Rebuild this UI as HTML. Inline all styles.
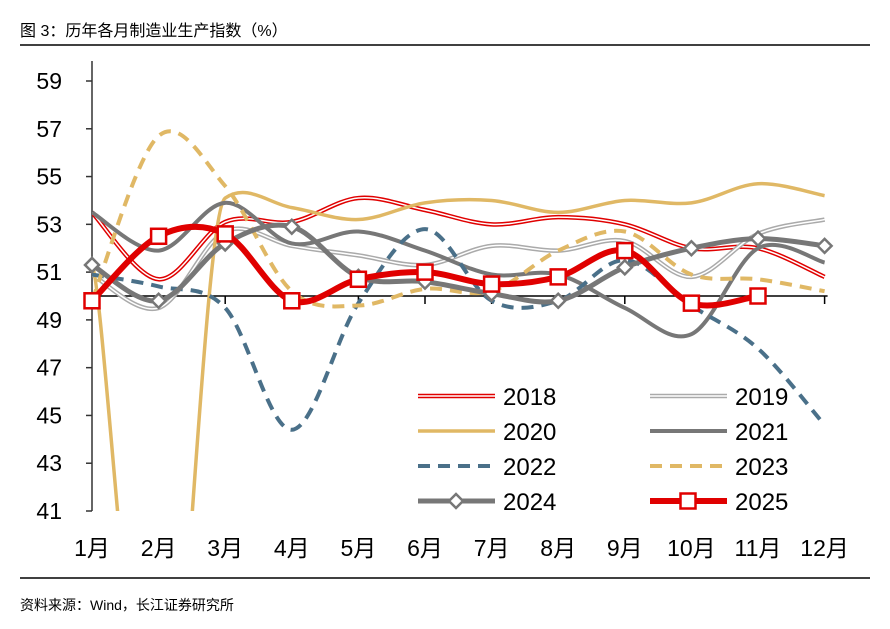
<!DOCTYPE html>
<html><head><meta charset="utf-8">
<style>
html,body{margin:0;padding:0;background:#fff;width:890px;height:629px;overflow:hidden;font-family:"Liberation Sans","Noto Sans CJK SC",sans-serif}
svg{display:block;overflow:hidden}
</style></head>
<body>
<svg id="c" width="890" height="629" xmlns="http://www.w3.org/2000/svg" style="font-family:'Liberation Sans','Noto Sans CJK SC',sans-serif">
<text x="20" y="36" font-size="16" fill="#000">图 3：历年各月制造业生产指数（%）</text>
<line x1="20" y1="45" x2="870" y2="45" stroke="#000" stroke-width="1.5"/>
<line x1="20" y1="578" x2="870" y2="578" stroke="#000" stroke-width="1.5"/>
<text x="20" y="610" font-size="14" fill="#000">资料来源：Wind，长江证券研究所</text>
<defs><clipPath id="clip"><rect x="92" y="60" width="740" height="451"/></clipPath></defs>
<g id="axes"></g>
<g id="series" clip-path="url(#clip)"></g>
<g id="markers"></g>
<g id="legend"></g>
</svg>
<script>
const months=["1月","2月","3月","4月","5月","6月","7月","8月","9月","10月","11月","12月"];
const yTicks=[41,43,45,47,49,51,53,55,57,59];
const s2018=[53.5,50.7,53.1,53.1,54.1,53.6,53.0,53.3,53.0,52.0,52.0,50.8];
const s2019=[50.9,49.5,52.7,52.1,51.7,51.3,52.1,51.9,52.3,50.8,52.6,53.2];
const s2020=[51.3,27.8,54.1,53.7,53.2,53.9,54.0,53.5,54.0,53.9,54.7,54.2];
const s2021=[53.5,51.9,53.9,52.2,52.7,51.9,50.9,50.9,49.5,48.4,52.0,51.4];
const s2022=[50.9,50.4,49.5,44.4,49.7,52.8,49.8,49.8,51.5,49.6,47.8,44.6];
const s2023=[49.8,56.7,54.6,50.2,49.6,50.3,50.2,51.9,52.7,50.9,50.7,50.2];
const s2024=[51.3,49.8,52.2,52.9,50.8,50.6,50.1,49.8,51.2,52.0,52.4,52.1];
const s2025=[49.8,52.5,52.6,49.8,50.7,51.0,50.5,50.8,51.9,49.7,50.0];
const NS="http://www.w3.org/2000/svg";
const x0=92,dx=66.6,yTop=81,yBot=511,vMin=41,vMax=59;
const X=i=>x0+i*dx;
const Y=v=>yBot-(v-vMin)/(vMax-vMin)*(yBot-yTop);
function mk(tag,attrs,parent){const e=document.createElementNS(NS,tag);for(const k in attrs)e.setAttribute(k,attrs[k]);parent.appendChild(e);return e;}
const axes=document.getElementById('axes');
let a=mk('line',{x1:x0,y1:yTop-20,x2:x0,y2:yBot,stroke:'#333','stroke-width':1.5},axes);


yTicks.forEach(v=>{
  const t=mk('line',{x1:x0-6,y1:Y(v),x2:x0,y2:Y(v),stroke:'#333','stroke-width':1.5},axes);
  
  
  const l=mk('text',{x:62,y:Y(v)+8,'text-anchor':'end','font-size':23,fill:'#000'},axes);
  l.textContent=v;
  
  
});
a=mk('line',{x1:x0,y1:Y(50),x2:X(11)+3,y2:Y(50),stroke:'#000','stroke-width':1.5},axes);


months.forEach((m,i)=>{
  if(i>0){const t=mk('line',{x1:X(i),y1:Y(50),x2:X(i),y2:Y(50)+8,stroke:'#000','stroke-width':1.5},axes);
  
  }
  const l=mk('text',{x:X(i),y:556,'text-anchor':'middle','font-size':23,fill:'#000'},axes);
  l.textContent=m;
  
  
});
function pathD(vals){
  const p=vals.map((v,i)=>[X(i),Y(v)]);
  const n=p.length;
  const tan=p.map((pt,i)=>{
    const a=p[Math.max(0,i-1)],b=p[Math.min(n-1,i+1)];
    const va=vals[Math.max(0,i-1)],vb=vals[Math.min(n-1,i+1)];
    const big=Math.abs(vals[i]-va)>10||Math.abs(vb-vals[i])>10;
    return [(b[0]-a[0])/6,(b[1]-a[1])/(big?40:6)];
  });
  let d='M'+p[0][0]+','+p[0][1];
  for(let i=0;i<n-1;i++){
    const p1=p[i],p2=p[i+1];
    const c1=[p1[0]+tan[i][0],p1[1]+tan[i][1]];
    const c2=[p2[0]-tan[i+1][0],p2[1]-tan[i+1][1]];
    d+=' C'+c1+' '+c2+' '+p2;
  }
  return d;
}
const G=document.getElementById('series');
const styles=[
 {name:'2018',data:s2018,layers:[{s:'#e00000',w:4.5},{s:'#fff',w:1.5}]},
 {name:'2019',data:s2019,layers:[{s:'#aaa',w:4.5},{s:'#fff',w:1.5}]},
 {name:'2020',data:s2020,layers:[{s:'#e0b865',w:3.5}]},
 {name:'2021',data:s2021,layers:[{s:'#777',w:4}]},
 {name:'2022',data:s2022,layers:[{s:'#4a7089',w:4,dash:'12 8'}]},
 {name:'2023',data:s2023,layers:[{s:'#e0b865',w:4,dash:'12 8'}]},
 {name:'2024',data:s2024,layers:[{s:'#777',w:5}]},
 {name:'2025',data:s2025,layers:[{s:'#e00000',w:6}]}
];
styles.forEach(st=>{
  const d=pathD(st.data);
  st.layers.forEach(L=>{
    const p=mk('path',{d:d,fill:'none',stroke:L.s,'stroke-width':L.w},G);
    if(L.dash)p.setAttribute('stroke-dasharray',L.dash);
    
    
  });
});
const M=document.getElementById('markers');
function diamond(cx,cy,r,par){return mk('path',{d:`M${cx},${cy-r} L${cx+r},${cy} L${cx},${cy+r} L${cx-r},${cy} Z`,fill:'#fff',stroke:'#777','stroke-width':2.5},par);}
function square(cx,cy,r,par){return mk('rect',{x:cx-r,y:cy-r,width:2*r,height:2*r,fill:'#fff',stroke:'#e00000','stroke-width':2.5},par);}
s2024.forEach((v,i)=>{const m=diamond(X(i),Y(v),7,M);
  
  });
s2025.forEach((v,i)=>{const m=square(X(i),Y(v),7.5,M);
  
  });
const LG=document.getElementById('legend');
styles.forEach((st,k)=>{
  const col=k%2,row=Math.floor(k/2);
  const lx=col?650:418,ly=396+row*35;
  const g=mk('g',{},LG);
  
  
  st.layers.forEach(L=>{const l=mk('line',{x1:lx,y1:ly,x2:lx+77,y2:ly,stroke:L.s,'stroke-width':L.w},g);if(L.dash)l.setAttribute('stroke-dasharray',L.dash);});
  if(st.name==='2024')diamond(lx+38,ly,7,g);
  if(st.name==='2025')square(lx+38,ly,7.5,g);
  const t=mk('text',{x:lx+85,y:ly+9,'font-size':24,fill:'#000'},g);
  t.textContent=st.name;
});
</script>
</body></html>
